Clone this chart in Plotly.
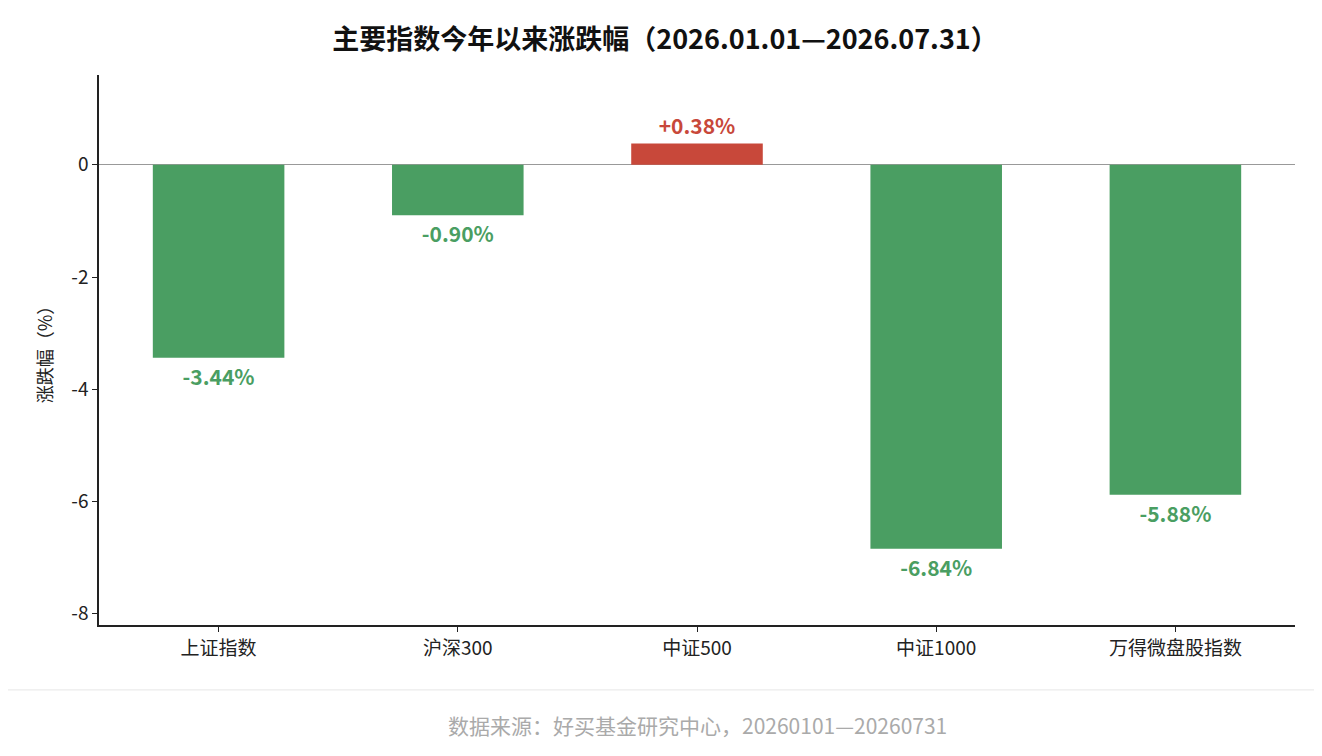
import plotly.graph_objects as go

categories = ["上证指数", "沪深300", "中证500", "中证1000", "万得微盘股指数"]
changes = [-3.44, -0.90, 0.38, -6.84, -5.88]
labels = ["-3.44%", "-0.90%", "+0.38%", "-6.84%", "-5.88%"]
y_ticks = [0, -2, -4, -6, -8]
y_tick_text = ["0", "-2", "-4", "-6", "-8"]

GREEN = "#4a9e62"
RED = "#c8483a"
colors = [RED if v > 0 else GREEN for v in changes]
FONT = "Noto Sans CJK SC"

fig = go.Figure(go.Bar(
    x=categories,
    y=changes,
    width=0.55,
    marker=dict(color=colors, line=dict(width=0)),
    text=labels,
    textposition="outside",
    textfont=dict(family=FONT, size=21, color=colors, weight="bold"),
    cliponaxis=False,
))

fig.update_layout(
    width=1314,
    height=748,
    margin=dict(l=91, r=27, t=67, b=131),
    paper_bgcolor="white",
    plot_bgcolor="white",
    font=dict(family=FONT, size=18, color="#222"),
    showlegend=False,
    title=dict(
        text="<b>主要指数今年以来涨跌幅（2026.01.01—2026.07.31）</b>",
        x=0.5, xanchor="center", y=0.958, yanchor="middle",
        font=dict(size=27, color="#111"),
    ),
    xaxis=dict(
        showline=True, linecolor="#222", linewidth=1.5,
        ticks="outside", ticklen=5, tickcolor="#222",
        tickfont=dict(size=19),
    ),
    yaxis=dict(
        range=[-8.2, 1.6], tickvals=y_ticks, ticktext=y_tick_text,
        showline=True, linecolor="#222", linewidth=1.5,
        ticks="outside", ticklen=5, tickcolor="#222",
        showgrid=False, zeroline=True, zerolinecolor="#999", zerolinewidth=1.2,
        title=dict(text="涨跌幅（%）", font=dict(size=18), standoff=14),
        tickfont=dict(size=19),
    ),
    shapes=[dict(
        type="rect", xref="paper", yref="paper",
        x0=-0.083, x1=1.021, y0=-0.118, y1=1.136,
        line=dict(color="#e6e6e6", width=1), layer="below",
    )],
    annotations=[dict(
        text="数据来源：好买基金研究中心，20260101—20260731",
        xref="paper", yref="paper", x=0.5, y=-0.182,
        xanchor="center", yanchor="middle", showarrow=False,
        font=dict(size=21, color="#aaaaaa"),
    )],
)

fig.write_html("out.html")
